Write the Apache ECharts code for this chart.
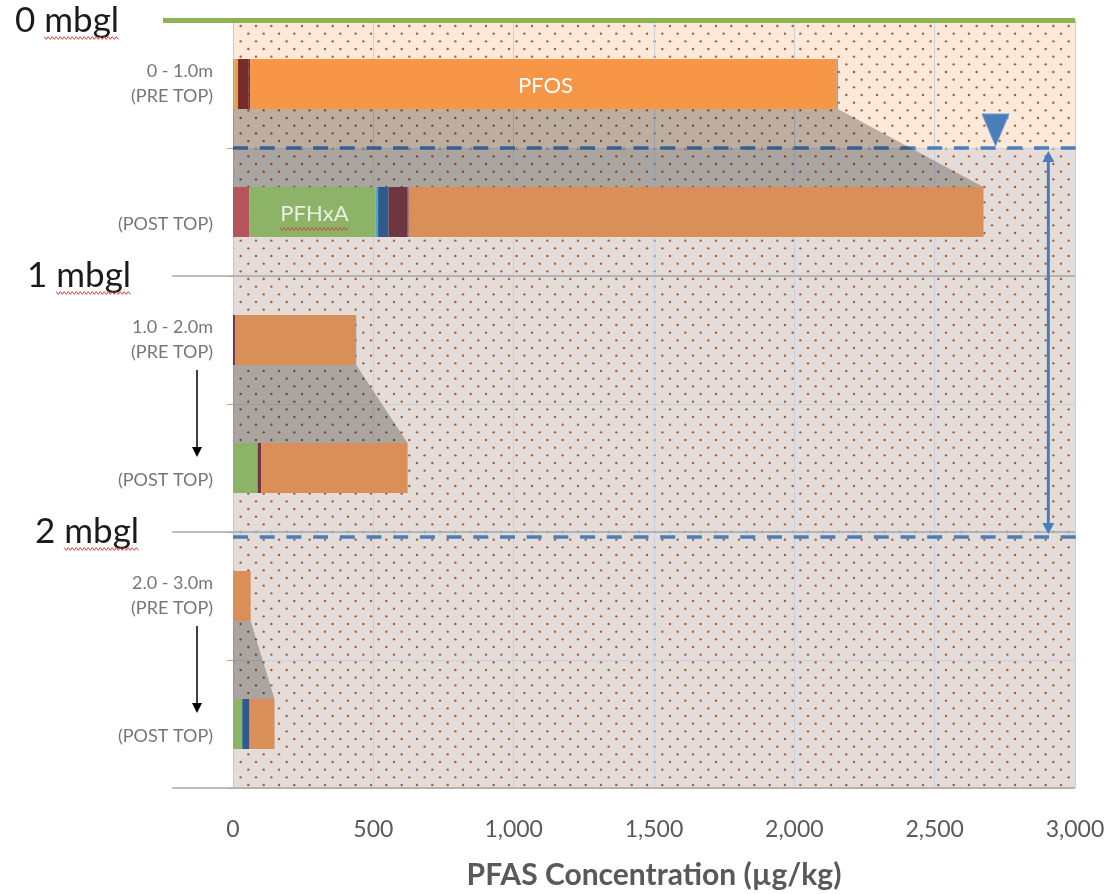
<!DOCTYPE html>
<html><head><meta charset="utf-8">
<script src="https://cdn.jsdelivr.net/npm/echarts@6/dist/echarts.min.js"></script>
<style>html,body{margin:0;padding:0;background:#fff}#c{width:1115px;height:894px}</style>
</head><body><div id="c"></div>
<script>
// ---------------- DATA ----------------
const categories = ["0 - 1.0m\n(PRE TOP)", "\n(POST TOP)", "1.0 - 2.0m\n(PRE TOP)", "\n(POST TOP)", "2.0 - 3.0m\n(PRE TOP)", "\n(POST TOP)"];
const xMin = 0, xMax = 3000, xStep = 500;
const xAxisTitle = "PFAS Concentration (µg/kg)";

// stacked segments (µg/kg), one value per category row
const sRed        = [0,   58,  0,   0,   0,  0];
const sPFHxA      = [6,   450, 0,   88,  0,  33];
const sOrangeMin  = [12,  0,   0,   0,   0,  0];
const sAqua       = [0,   9,   0,   0,   0,  0];
const sDarkBlue   = [0,   37,  0,   0,   0,  26];
const sMaroon     = [38,  67,  7,   13,  0,  0];
const sPurple     = [5,   5,   0,   0,   0,  0];
const sPFOS       = [2090, 2048, 428, 521, 63, 89];
const sAquaEnd    = [4,   0,   4,   0,   0,  0];

// pre/post pairs (category indices) joined by a grey band
const pairs = [[0, 1], [2, 3], [4, 5]];
const pairArrows = [false, true, true];

// depth features (m below ground level)
const zoneDepths = [0, 0.5, 3];
const mbglDepths = [0, 1, 2];
const mbglLabels = ["0 mbgl", "1 mbgl", "2 mbgl"];
const boundaryDepths = [1, 2, 3];
const waterTableDepths = [0.5, 2.02];
const wtArrowX = 2905;
const wtSymbolX = 2717;

// ---------------- STYLE ----------------
const FONT = 'Lato, "Open Sans", sans-serif';
const BAR_W = 50;
const seriesDefs = [
  {name: 'Series 1', values: sRed,       bright: '#c0504d', muted: '#b4545b'},
  {name: 'PFHxA',    values: sPFHxA,     bright: '#9bbb59', muted: '#8db369'},
  {name: 'Series 3', values: sOrangeMin, bright: '#f79646', muted: '#da8f58'},
  {name: 'Series 4', values: sAqua,      bright: '#4bacc6', muted: '#4aa7d6'},
  {name: 'Series 5', values: sDarkBlue,  bright: '#2c4d75', muted: '#2f5a8a'},
  {name: 'Series 6', values: sMaroon,    bright: '#772c2a', muted: '#6e3640'},
  {name: 'Series 7', values: sPurple,    bright: '#4d3b62', muted: '#5a4670'},
  {name: 'PFOS',     values: sPFOS,      bright: '#f79646', muted: '#da8f58'},
  {name: 'Series 9', values: sAquaEnd,   bright: '#4bacc6', muted: '#5ab3cf'}
];
const segLabels = {PFOS: {row: 0, color: '#ffffff'}, PFHxA: {row: 1, color: '#e9f1e2'}};
const mbglLabelLeft = [15, 27, 35];
const zoneColors = ['#fde9d9', '#e4dcd8'];
const WT_BLUE = '#4a7ebb';

const totals = categories.map((_, i) => seriesDefs.reduce((s, d) => s + d.values[i], 0));

// dot pattern
function makeDots() {
  const c = document.createElement('canvas'); c.width = 46; c.height = 46;
  const g = c.getContext('2d'); g.fillStyle = 'rgba(160,80,30,0.9)';
  const s = 46 / 3;
  function dot(x, y) { g.beginPath(); g.arc(x, y, 1.2, 0, Math.PI * 2); g.fill(); }
  for (let i = 0; i < 3; i++) for (let j = 0; j < 3; j++) {
    dot(i * s + 3, j * s + 3); dot(i * s + s / 2 + 3, j * s + s / 2 + 3);
  }
  return c;
}
const dots = makeDots();
const mctx = document.createElement('canvas').getContext('2d');
function textW(t, font) { mctx.font = font; return mctx.measureText(t).width; }
function squiggle(x1, x2, y) {
  const pts = []; let k = 0;
  for (let x = x1; x <= x2; x += 2) pts.push([x, y + ((k++ % 2) ? 1.4 : -1.4)]);
  return {type: 'polyline', shape: {points: pts}, style: {stroke: '#e0403a', lineWidth: 1, fill: null}};
}

const chart = echarts.init(document.getElementById('c'));

const barSeries = seriesDefs.map(d => ({
  type: 'bar', name: d.name, stack: 'total', barWidth: BAR_W, z: 2,
  xAxisIndex: 0, yAxisIndex: 0, silent: true,
  data: d.values.map((v, i) => {
    const item = {value: v, itemStyle: {color: i === 0 ? d.bright : d.muted}};
    const lab = segLabels[d.name];
    if (lab && lab.row === i) {
      item.label = {show: true, position: 'inside', formatter: d.name, color: lab.color,
        fontFamily: FONT, fontSize: 22, offset: [2, 2]};
    }
    return item;
  })
}));

const option = {
  animation: false,
  grid: {left: 233, right: 40, top: 20, bottom: 106, containLabel: false, outerBoundsMode: 'none'},
  xAxis: {
    type: 'value', min: xMin, max: xMax, interval: xStep,
    axisLine: {show: false}, axisTick: {show: false},
    splitLine: {show: true, lineStyle: {color: '#c9d0da', width: 1}},
    axisLabel: {margin: 30, fontFamily: FONT, fontSize: 23, color: '#595959',
      formatter: v => v.toLocaleString('en-US')},
    name: xAxisTitle, nameLocation: 'middle', nameGap: 72, nameMoveOverlap: false,
    nameTextStyle: {fontFamily: FONT, fontSize: 30, fontWeight: 'bold', color: '#595959'}
  },
  yAxis: [{
    type: 'category', data: categories, inverse: true,
    axisLine: {show: true, lineStyle: {color: '#c3cad6', width: 1}},
    axisTick: {show: true, length: 6, lineStyle: {color: '#a6a6a6'}},
    splitLine: {show: true, lineStyle: {color: '#c9d0da', width: 1}},
    axisLabel: {interval: 0, margin: 20, fontFamily: FONT, fontSize: 18, lineHeight: 25,
      color: '#767676', align: 'right'}
  }, {
    type: 'value', min: 0, max: 3, inverse: true, show: false
  }],
  series: [
    { // ground zones + dot texture
      type: 'custom', name: 'zones', coordinateSystem: 'cartesian2d', xAxisIndex: 0, yAxisIndex: 1,
      z: -1, silent: true, data: [[0, 0]],
      renderItem: (params, api) => {
        const xL = api.coord([xMin, 0])[0], xR = api.coord([xMax, 0])[0];
        const ch = [];
        for (let i = 0; i < zoneDepths.length - 1; i++) {
          const y1 = api.coord([0, zoneDepths[i]])[1], y2 = api.coord([0, zoneDepths[i + 1]])[1];
          ch.push({type: 'rect', shape: {x: xL, y: y1, width: xR - xL, height: y2 - y1}, style: {fill: zoneColors[i]}});
        }
        const yT = api.coord([0, zoneDepths[0]])[1], yB = api.coord([0, zoneDepths[zoneDepths.length - 1]])[1];
        ch.push({type: 'rect', shape: {x: xL, y: yT, width: xR - xL, height: yB - yT},
          style: {fill: {image: dots, repeat: 'repeat'}}});
        return {type: 'group', children: ch};
      }
    },
    { // water table dashed lines
      type: 'custom', name: 'watertable', coordinateSystem: 'cartesian2d', xAxisIndex: 0, yAxisIndex: 1,
      z: 0.5, silent: true, data: [[0, 0]],
      renderItem: (params, api) => {
        const xL = api.coord([xMin, 0])[0], xR = api.coord([xMax, 0])[0];
        return {type: 'group', children: waterTableDepths.map(d => {
          const y = api.coord([0, d])[1];
          return {type: 'line', shape: {x1: xL, y1: y, x2: xR + 3, y2: y},
            style: {stroke: WT_BLUE, lineWidth: 3.5, lineDash: [15, 11.7]}};
        })};
      }
    },
    { // grey connector bands between pre / post bars, black arrows
      type: 'custom', name: 'connectors', coordinateSystem: 'cartesian2d', xAxisIndex: 0, yAxisIndex: 0,
      z: 1, silent: true, encode: {x: [0, 1], y: [2, 3]},
      data: pairs.map(([a, b]) => [totals[a], totals[b], a, b]),
      renderItem: (params, api) => {
        const a = api.value(2), b = api.value(3);
        const pT = api.coord([api.value(0), a]);
        const pB = api.coord([api.value(1), b]);
        const x0 = api.coord([0, a])[0];
        const h = BAR_W / 2;
        const ch = [{type: 'polygon', shape: {points: [[x0, pT[1] + h], [pT[0], pT[1] + h], [pB[0], pB[1] - h], [x0, pB[1] - h]]},
          style: {fill: 'rgba(0,0,0,0.25)'}}];
        if (pairArrows[params.dataIndex]) {
          const ax = x0 - 36, y1 = pT[1] + 30, y2 = pB[1] - 11;
          ch.push({type: 'line', shape: {x1: ax, y1: y1, x2: ax, y2: y2 - 8}, style: {stroke: '#000', lineWidth: 1.5}});
          ch.push({type: 'polygon', shape: {points: [[ax - 5, y2 - 10], [ax + 5, y2 - 10], [ax, y2]]}, style: {fill: '#000'}});
        }
        return {type: 'group', children: ch};
      }
    },
    ...barSeries,
    { // PFHxA spell-check squiggle
      type: 'custom', name: 'sq', coordinateSystem: 'cartesian2d', xAxisIndex: 0, yAxisIndex: 0,
      z: 5, silent: true, data: [[sRed[1] + sPFHxA[1] / 2, 1]],
      renderItem: (params, api) => {
        const p = api.coord([api.value(0), api.value(1)]);
        const w = textW('PFHxA', '22px ' + FONT);
        return squiggle(p[0] - w / 2 + 2, p[0] + w / 2 + 2, p[1] + 17);
      }
    },
    { // depth annotations
      type: 'custom', name: 'depth', coordinateSystem: 'cartesian2d', xAxisIndex: 0, yAxisIndex: 1,
      z: 5, silent: true, data: [[0, 0]],
      renderItem: (params, api) => {
        const xL = api.coord([xMin, 0])[0], xR = api.coord([xMax, 0])[0];
        const ch = [];
        const y0 = api.coord([0, 0])[1];
        ch.push({type: 'line', shape: {x1: xL - 70, y1: y0 + 0.5, x2: xR, y2: y0 + 0.5},
          style: {stroke: '#8db451', lineWidth: 5}});
        boundaryDepths.forEach(d => {
          const y = api.coord([0, d])[1];
          ch.push({type: 'line', shape: {x1: xL - 61, y1: y, x2: xR, y2: y}, style: {stroke: '#a8a8a8', lineWidth: 1.3}});
        });
        const fs = 35;
        const f = fs + 'px ' + FONT;
        mbglDepths.forEach((d, i) => {
          const y = api.coord([0, d])[1] + (i === 0 ? 1 : 0);
          const xl = mbglLabelLeft[i];
          ch.push({type: 'text', x: xl, y: y, style: {text: mbglLabels[i], fontFamily: FONT, fontSize: fs,
            fill: '#1a1a1a', align: 'left', verticalAlign: 'middle'}});
          const parts = mbglLabels[i].split(' ');
          const sx = xl + textW(parts[0] + ' ', f);
          ch.push(squiggle(sx, sx + textW(parts[1], f), y + 17));
        });
        // water-table range arrow
        const ax = api.coord([wtArrowX, 0])[0];
        const ya = api.coord([0, waterTableDepths[0]])[1] + 3;
        const yb = api.coord([0, waterTableDepths[1]])[1] - 3;
        ch.push({type: 'line', shape: {x1: ax, y1: ya + 8, x2: ax, y2: yb - 8}, style: {stroke: WT_BLUE, lineWidth: 3}});
        ch.push({type: 'polygon', shape: {points: [[ax, ya], [ax - 6, ya + 11], [ax + 6, ya + 11]]}, style: {fill: WT_BLUE}});
        ch.push({type: 'polygon', shape: {points: [[ax, yb], [ax - 6, yb - 11], [ax + 6, yb - 11]]}, style: {fill: WT_BLUE}});
        // water table symbol
        const tx = api.coord([wtSymbolX, 0])[0];
        const ty = api.coord([0, waterTableDepths[0]])[1] - 2;
        ch.push({type: 'polygon', shape: {points: [[tx - 13.5, ty - 32], [tx + 13.5, ty - 32], [tx, ty]]},
          style: {fill: WT_BLUE, stroke: '#6f9ad0', lineWidth: 1}});
        return {type: 'group', children: ch};
      }
    }
  ]
};
chart.setOption(option);
</script>
</body></html>
